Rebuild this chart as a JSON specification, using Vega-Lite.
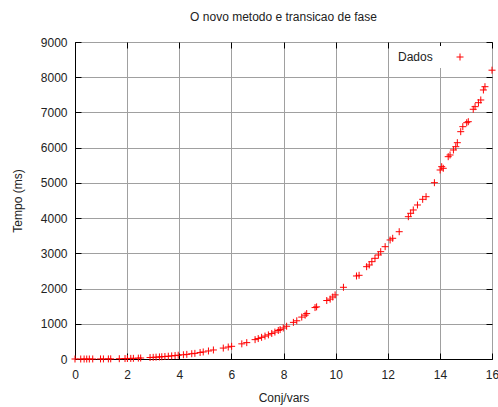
{
  "$schema": "https://vega.github.io/schema/vega-lite/v6.json",
  "width": 417,
  "height": 317,
  "autosize": {"type": "none"},
  "padding": {"left": 75, "top": 42, "right": 6, "bottom": 48},
  "title": {"text": "O novo metodo e transicao de fase", "fontSize": 12, "font": "Liberation Sans", "fontWeight": "normal", "color": "#222222", "offset": 12},
  "config": {
    "font": "Liberation Sans",
    "view": {"stroke": "black", "strokeWidth": 1},
    "axis": {
      "labelFont": "Liberation Sans", "labelFontSize": 12, "labelColor": "#222222",
      "titleFont": "Liberation Sans", "titleFontSize": 12, "titleFontWeight": "normal", "titleColor": "#222222",
      "gridColor": "#a0a0a0", "gridOpacity": 1, "gridWidth": 1,
      "domainColor": "black", "tickColor": "black", "tickWidth": 1
    }
  },
  "data": {"values": [
    {"x": 0, "y": 0, "s": "Dados"},
    {"x": 0.22, "y": 0, "s": "Dados"},
    {"x": 0.35, "y": 0, "s": "Dados"},
    {"x": 0.45, "y": 0, "s": "Dados"},
    {"x": 0.55, "y": 0, "s": "Dados"},
    {"x": 0.68, "y": 1, "s": "Dados"},
    {"x": 0.98, "y": 2, "s": "Dados"},
    {"x": 1.09, "y": 2, "s": "Dados"},
    {"x": 1.28, "y": 3, "s": "Dados"},
    {"x": 1.37, "y": 4, "s": "Dados"},
    {"x": 1.7, "y": 8, "s": "Dados"},
    {"x": 1.92, "y": 12, "s": "Dados"},
    {"x": 2.01, "y": 14, "s": "Dados"},
    {"x": 2.14, "y": 17, "s": "Dados"},
    {"x": 2.24, "y": 19, "s": "Dados"},
    {"x": 2.43, "y": 25, "s": "Dados"},
    {"x": 2.52, "y": 28, "s": "Dados"},
    {"x": 2.88, "y": 42, "s": "Dados"},
    {"x": 3.0, "y": 47, "s": "Dados"},
    {"x": 3.11, "y": 52, "s": "Dados"},
    {"x": 3.24, "y": 59, "s": "Dados"},
    {"x": 3.33, "y": 64, "s": "Dados"},
    {"x": 3.45, "y": 71, "s": "Dados"},
    {"x": 3.58, "y": 79, "s": "Dados"},
    {"x": 3.71, "y": 88, "s": "Dados"},
    {"x": 3.84, "y": 98, "s": "Dados"},
    {"x": 3.96, "y": 107, "s": "Dados"},
    {"x": 4.16, "y": 120, "s": "Dados"},
    {"x": 4.29, "y": 131, "s": "Dados"},
    {"x": 4.48, "y": 150, "s": "Dados"},
    {"x": 4.6, "y": 160, "s": "Dados"},
    {"x": 4.8, "y": 185, "s": "Dados"},
    {"x": 4.92, "y": 200, "s": "Dados"},
    {"x": 5.12, "y": 228, "s": "Dados"},
    {"x": 5.31, "y": 256, "s": "Dados"},
    {"x": 5.69, "y": 310, "s": "Dados"},
    {"x": 5.88, "y": 340, "s": "Dados"},
    {"x": 6.01, "y": 360, "s": "Dados"},
    {"x": 6.4, "y": 430, "s": "Dados"},
    {"x": 6.59, "y": 465, "s": "Dados"},
    {"x": 6.91, "y": 550, "s": "Dados"},
    {"x": 7.03, "y": 580, "s": "Dados"},
    {"x": 7.16, "y": 615, "s": "Dados"},
    {"x": 7.29, "y": 650, "s": "Dados"},
    {"x": 7.42, "y": 685, "s": "Dados"},
    {"x": 7.55, "y": 725, "s": "Dados"},
    {"x": 7.67, "y": 765, "s": "Dados"},
    {"x": 7.8, "y": 810, "s": "Dados"},
    {"x": 7.87, "y": 835, "s": "Dados"},
    {"x": 7.99, "y": 880, "s": "Dados"},
    {"x": 8.12, "y": 930, "s": "Dados"},
    {"x": 8.38, "y": 1040, "s": "Dados"},
    {"x": 8.51, "y": 1085, "s": "Dados"},
    {"x": 8.7, "y": 1190, "s": "Dados"},
    {"x": 8.83, "y": 1245, "s": "Dados"},
    {"x": 8.89, "y": 1290, "s": "Dados"},
    {"x": 9.21, "y": 1460, "s": "Dados"},
    {"x": 9.27, "y": 1480, "s": "Dados"},
    {"x": 9.66, "y": 1660, "s": "Dados"},
    {"x": 9.79, "y": 1700, "s": "Dados"},
    {"x": 9.89, "y": 1760, "s": "Dados"},
    {"x": 9.98, "y": 1820, "s": "Dados"},
    {"x": 10.3, "y": 2036, "s": "Dados"},
    {"x": 10.8, "y": 2357, "s": "Dados"},
    {"x": 10.9, "y": 2376, "s": "Dados"},
    {"x": 11.19, "y": 2621, "s": "Dados"},
    {"x": 11.29, "y": 2669, "s": "Dados"},
    {"x": 11.39, "y": 2763, "s": "Dados"},
    {"x": 11.51, "y": 2859, "s": "Dados"},
    {"x": 11.64, "y": 2953, "s": "Dados"},
    {"x": 11.73, "y": 3047, "s": "Dados"},
    {"x": 11.9, "y": 3189, "s": "Dados"},
    {"x": 12.09, "y": 3379, "s": "Dados"},
    {"x": 12.19, "y": 3427, "s": "Dados"},
    {"x": 12.44, "y": 3614, "s": "Dados"},
    {"x": 12.79, "y": 4040, "s": "Dados"},
    {"x": 12.88, "y": 4137, "s": "Dados"},
    {"x": 12.98, "y": 4231, "s": "Dados"},
    {"x": 13.14, "y": 4373, "s": "Dados"},
    {"x": 13.34, "y": 4534, "s": "Dados"},
    {"x": 13.47, "y": 4608, "s": "Dados"},
    {"x": 13.79, "y": 5006, "s": "Dados"},
    {"x": 14.01, "y": 5366, "s": "Dados"},
    {"x": 14.07, "y": 5460, "s": "Dados"},
    {"x": 14.13, "y": 5414, "s": "Dados"},
    {"x": 14.32, "y": 5744, "s": "Dados"},
    {"x": 14.39, "y": 5792, "s": "Dados"},
    {"x": 14.52, "y": 5934, "s": "Dados"},
    {"x": 14.61, "y": 6028, "s": "Dados"},
    {"x": 14.67, "y": 6141, "s": "Dados"},
    {"x": 14.8, "y": 6454, "s": "Dados"},
    {"x": 14.88, "y": 6596, "s": "Dados"},
    {"x": 15.03, "y": 6709, "s": "Dados"},
    {"x": 15.09, "y": 6738, "s": "Dados"},
    {"x": 15.28, "y": 7090, "s": "Dados"},
    {"x": 15.35, "y": 7164, "s": "Dados"},
    {"x": 15.48, "y": 7277, "s": "Dados"},
    {"x": 15.57, "y": 7354, "s": "Dados"},
    {"x": 15.67, "y": 7638, "s": "Dados"},
    {"x": 15.73, "y": 7731, "s": "Dados"},
    {"x": 16.0, "y": 8200, "s": "Dados"}
  ]},
  "layer": [
    {
      "mark": {"type": "point", "shape": "M-1,0L1,0M0,-1L0,1", "filled": false, "size": 49, "strokeWidth": 1, "opacity": 1},
      "encoding": {
        "x": {"field": "x", "type": "quantitative", "scale": {"domain": [0, 16], "nice": false, "zero": false},
              "axis": {"orient": "bottom", "values": [0, 2, 4, 6, 8, 10, 12, 14, 16], "grid": true, "tickSize": -6, "labelPadding": 16, "title": "Conj/vars", "titlePadding": 12, "domain": true, "labelFlush": false}},
        "y": {"field": "y", "type": "quantitative", "scale": {"domain": [0, 9000], "nice": false},
              "axis": {"orient": "left", "values": [0, 1000, 2000, 3000, 4000, 5000, 6000, 7000, 8000, 9000], "grid": true, "tickSize": -6, "labelPadding": 14, "title": "Tempo (ms)", "titlePadding": 16, "format": "d", "domain": true}},
        "color": {"field": "s", "type": "nominal", "scale": {"range": ["#ff0000"]},
                  "legend": {"title": "Dados", "titleOrient": "left", "titleFont": "Liberation Sans", "titleFontSize": 12, "titleFontWeight": "normal", "titleColor": "#222222", "titlePadding": 21,
                             "orient": "none", "legendX": 318, "legendY": 4, "symbolType": "M-1,0L1,0M0,-1L0,1", "symbolSize": 49, "symbolStrokeWidth": 1, "symbolStrokeColor": "#ff0000", "labelExpr": "''", "labelOffset": 0, "labelFontSize": 12, "fillColor": "white", "padding": 5}}
      }
    },
    {
      "mark": {"type": "point", "opacity": 0},
      "encoding": {
        "x": {"field": "x", "type": "quantitative",
              "axis": {"orient": "top", "values": [0, 2, 4, 6, 8, 10, 12, 14, 16], "grid": false, "labels": false, "domain": false, "tickSize": -6, "title": null}},
        "y": {"field": "y", "type": "quantitative",
              "axis": {"orient": "right", "values": [0, 1000, 2000, 3000, 4000, 5000, 6000, 7000, 8000, 9000], "grid": false, "labels": false, "domain": false, "tickSize": -6, "title": null}}
      }
    }
  ],
  "resolve": {"axis": {"x": "independent", "y": "independent"}}
}
